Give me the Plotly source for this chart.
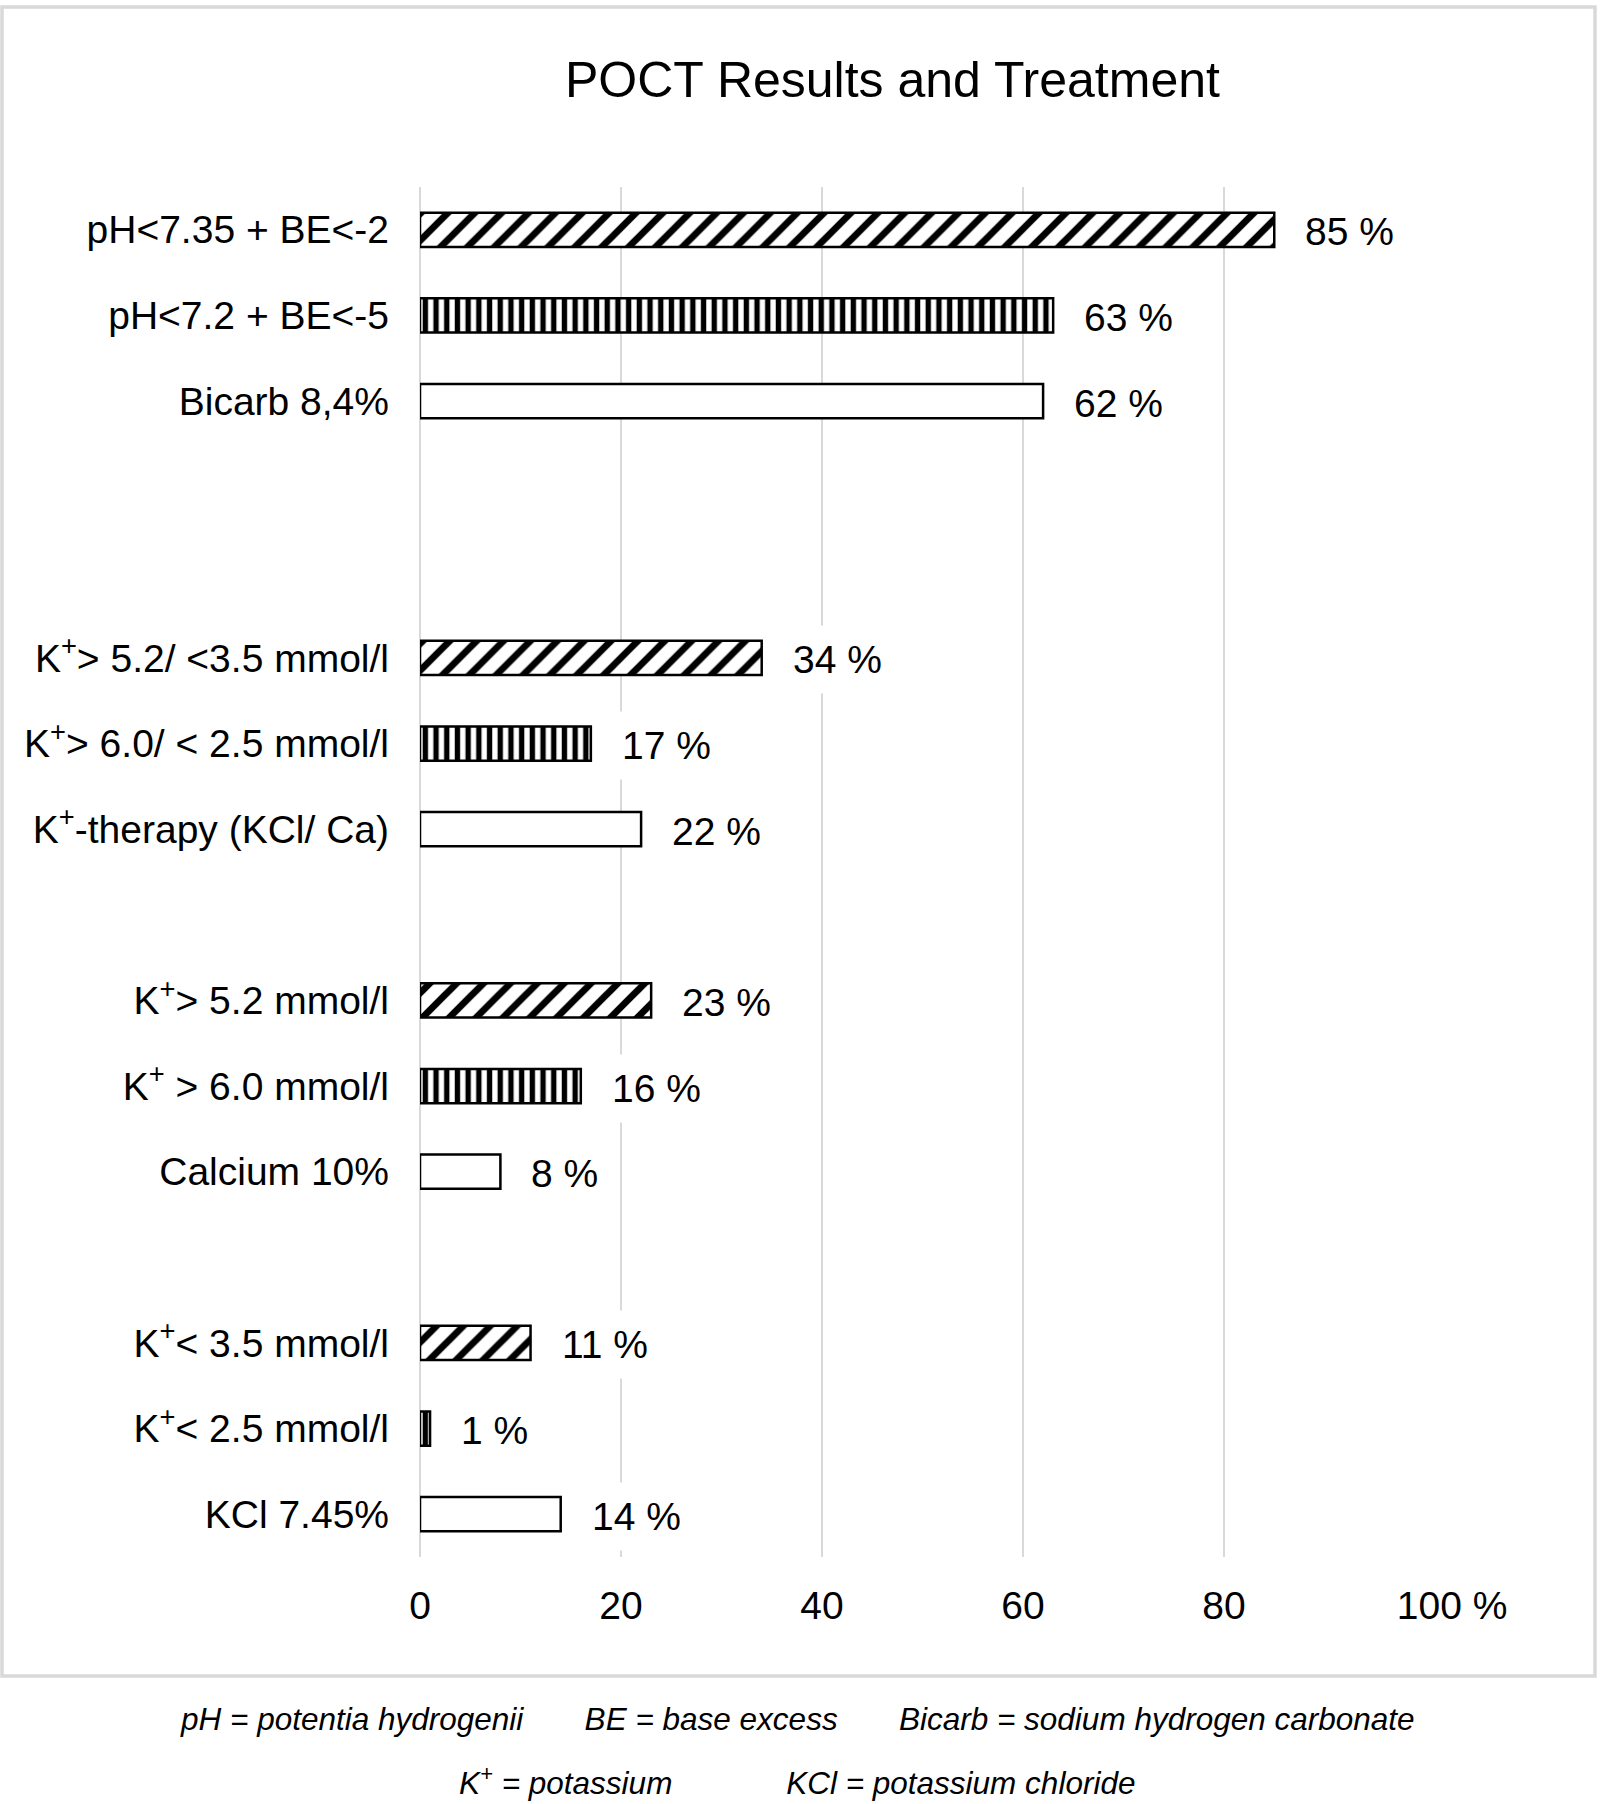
import plotly.graph_objects as go

# ---------------- data ----------------
# slot order on the y axis (gap slots separate the four groups)
category_order = [
    "pH<7.35 + BE<-2", "pH<7.2 + BE<-5", "Bicarb 8,4%", "gap1", "gap2",
    "K+> 5.2/ <3.5 mmol/l", "K+> 6.0/ < 2.5 mmol/l", "K+-therapy (KCl/ Ca)", "gap3",
    "K+> 5.2 mmol/l", "K+ > 6.0 mmol/l", "Calcium 10%", "gap4",
    "K+< 3.5 mmol/l", "K+< 2.5 mmol/l", "KCl 7.45%",
]
category_tick_labels = [
    "pH&lt;7.35 + BE&lt;-2", "pH&lt;7.2 + BE&lt;-5", "Bicarb 8,4%", "", "",
    "K<sup>+</sup>&gt; 5.2/ &lt;3.5 mmol/l", "K<sup>+</sup>&gt; 6.0/ &lt; 2.5 mmol/l",
    "K<sup>+</sup>-therapy (KCl/ Ca)", "",
    "K<sup>+</sup>&gt; 5.2 mmol/l", "K<sup>+</sup> &gt; 6.0 mmol/l", "Calcium 10%", "",
    "K<sup>+</sup>&lt; 3.5 mmol/l", "K<sup>+</sup>&lt; 2.5 mmol/l", "KCl 7.45%",
]

# series 1: first threshold (hatched)
threshold1_cats = ["pH<7.35 + BE<-2", "K+> 5.2/ <3.5 mmol/l", "K+> 5.2 mmol/l", "K+< 3.5 mmol/l"]
threshold1_vals = [85, 34, 23, 11]
# series 2: severe threshold (vertical stripes)
threshold2_cats = ["pH<7.2 + BE<-5", "K+> 6.0/ < 2.5 mmol/l", "K+ > 6.0 mmol/l", "K+< 2.5 mmol/l"]
threshold2_vals = [63, 17, 16, 1]
# series 3: treatment (white)
treatment_cats = ["Bicarb 8,4%", "K+-therapy (KCl/ Ca)", "Calcium 10%", "KCl 7.45%"]
treatment_vals = [62, 22, 8, 14]

x_tick_vals = [0, 20, 40, 60, 80, 100]
x_tick_labels = ["0", "20", "40", "60", "80", "100 %"]

title_text = "POCT Results and Treatment"
footnote_line1 = ["pH = potentia hydrogenii", "BE = base excess", "Bicarb = sodium hydrogen carbonate"]
footnote_line2 = ["K<sup>+</sup> = potassium", "KCl = potassium chloride"]

# ---------------- layout geometry ----------------
W, H = 1600, 1804
ML, MR, MT, MB = 420, 175, 187, 247
PW, PH = W - ML - MR, H - MT - MB
FONT = "Liberation Sans, Arial, Helvetica, sans-serif"
FS = 39


def px_x(px):
    return (px - ML) / PW


def px_y(py):
    return (H - MB - py) / PH


fig = go.Figure()

series = [
    (threshold1_cats, threshold1_vals, dict(shape="/", size=19, solidity=0.36)),
    (threshold2_cats, threshold2_vals, dict(shape="|", size=10.7, solidity=0.5)),
    (treatment_cats, treatment_vals, None),
]

annotations = []
for cats, vals, pat in series:
    marker = dict(color="white", line=dict(color="black", width=2.5))
    if pat:
        marker["pattern"] = dict(fgcolor="black", bgcolor="white", fillmode="replace", **pat)
    fig.add_trace(go.Bar(y=cats, x=vals, orientation="h", marker=marker,
                         showlegend=False, hoverinfo="x+y"))
    for c, v in zip(cats, vals):
        annotations.append(dict(
            x=v, y=c, xref="x", yref="y", text=f"{v} %", showarrow=False,
            xanchor="left", yanchor="middle", xshift=18, yshift=-2,
            bgcolor="white", borderpad=12,
            font=dict(family=FONT, size=FS, color="black"),
        ))

# title
annotations.append(dict(
    x=px_x(892), y=px_y(80), xref="paper", yref="paper", text=title_text,
    showarrow=False, xanchor="center", yanchor="middle",
    font=dict(family=FONT, size=50, color="black"),
))
# footnotes
nb = "\u00a0"
annotations.append(dict(
    x=px_x(797), y=px_y(1719), xref="paper", yref="paper",
    text="<i>" + (" " + nb * 6).join(footnote_line1) + "</i>",
    showarrow=False, xanchor="center", yanchor="middle",
    font=dict(family=FONT, size=31.5, color="black"),
))
annotations.append(dict(
    x=px_x(797), y=px_y(1781), xref="paper", yref="paper",
    text="<i>" + (" " + nb * 12).join(footnote_line2) + "</i>",
    showarrow=False, xanchor="center", yanchor="middle",
    font=dict(family=FONT, size=31.5, color="black"),
))

x_tick_text = list(x_tick_labels)
x_tick_text[-1] = nb * 5 + x_tick_text[-1]

# only label real categories (gap slots stay unlabeled)
y_tick_vals = [c for c, t in zip(category_order, category_tick_labels) if t]
y_tick_text = [t for t in category_tick_labels if t]

fig.update_layout(
    width=W, height=H,
    margin=dict(l=ML, r=MR, t=MT, b=MB, pad=0),
    paper_bgcolor="white", plot_bgcolor="white",
    barmode="overlay", bargap=0.6,
    font=dict(family=FONT, color="black"),
    annotations=annotations,
    shapes=[dict(type="rect", xref="paper", yref="paper",
                 x0=px_x(2), x1=px_x(1595), y0=px_y(1676), y1=px_y(7),
                 line=dict(color="#d9d9d9", width=3.5), fillcolor="rgba(0,0,0,0)",
                 layer="below")],
    xaxis=dict(range=[0, 100], tickvals=x_tick_vals, ticktext=x_tick_text,
               showgrid=True, gridcolor="#d9d9d9", gridwidth=2,
               zeroline=True, zerolinecolor="#d9d9d9", zerolinewidth=2,
               showline=False, ticks="", ticklabelstandoff=22,
               tickfont=dict(family=FONT, size=FS, color="black"), fixedrange=True),
    yaxis=dict(categoryorder="array", categoryarray=category_order,
               tickvals=y_tick_vals, ticktext=y_tick_text,
               range=[len(category_order) - 0.5, -0.5],
               showgrid=False, zeroline=False, showline=False, ticks="",
               ticklabelstandoff=30,
               tickfont=dict(family=FONT, size=FS, color="black"), fixedrange=True),
)

fig.write_html("out.html", config={"displayModeBar": False},
               post_script="document.body.style.margin='0';")
